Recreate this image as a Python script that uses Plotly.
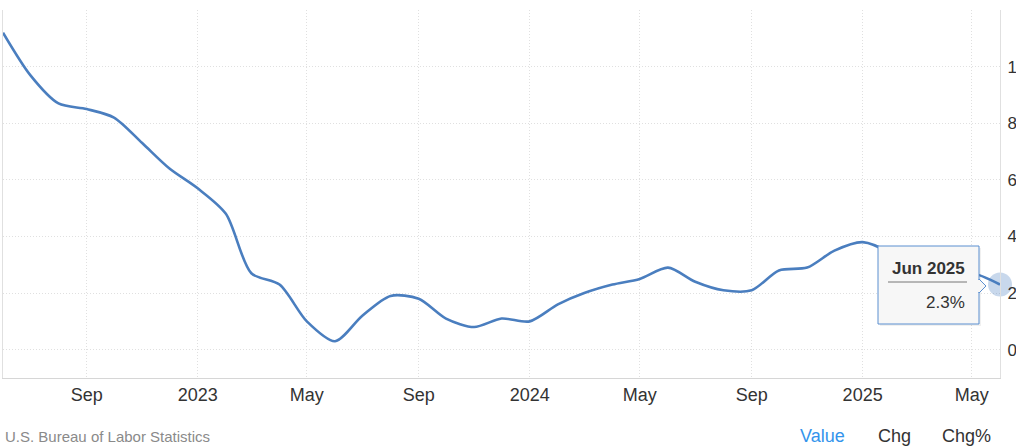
import plotly.graph_objects as go
import pandas as pd

# --- data (US PPI final demand, YoY %) ---
months = pd.date_range("2022-06-01", "2025-06-01", freq="MS")
values = [11.2, 9.7, 8.7, 8.5, 8.2, 7.3, 6.4, 5.7, 4.8, 2.7, 2.3, 1.0, 0.3,
          1.2, 1.9, 1.8, 1.1, 0.8, 1.1, 1.0, 1.6, 2.0, 2.3, 2.5, 2.9, 2.4,
          2.1, 2.1, 2.8, 2.9, 3.5, 3.8, 3.4, 2.7, 2.5, 2.7, 2.3]
x_tick_dates = ["2022-09-01", "2023-01-01", "2023-05-01", "2023-09-01", "2024-01-01",
                "2024-05-01", "2024-09-01", "2025-01-01", "2025-05-01"]
x_tick_labels = ["Sep", "2023", "May", "Sep", "2024", "May", "Sep", "2025", "May"]
y_tick_vals = [0, 2, 4, 6, 8, 10, 12]
y_tick_labels = ["0", "2", "4", "6", "8", "10", ""]
source = "U.S. Bureau of Labor Statistics"
footer_tabs = ["Value", "Chg", "Chg%"]

FONT = "Liberation Sans, Arial, sans-serif"
LINE = "#4a7ebf"

fig = go.Figure()
fig.add_trace(go.Scatter(x=months, y=values, mode="lines",
                         line=dict(color=LINE, width=2.6, shape="spline", smoothing=0.8),
                         hoverinfo="skip", showlegend=False))
# hover marker at latest point
fig.add_trace(go.Scatter(x=[months[-1]], y=[values[-1]], mode="markers",
                         marker=dict(size=24, color="rgba(74,126,191,0.3)", line=dict(width=0)),
                         hoverinfo="skip", showlegend=False, cliponaxis=False))

W, H = 1016, 446
L, R, T, B = 3, 1000, 10, 378

def px(x):
    return (x - L) / (R - L)

def py(y):
    return (B - y) / (B - T)

shapes = [
    # tooltip shadow
    dict(type="rect", xref="paper", yref="paper", x0=px(880), x1=px(981), y0=py(326), y1=py(248),
         fillcolor="rgba(0,0,0,0.06)", line=dict(width=0), layer="above"),
    # tooltip box
    dict(type="rect", xref="paper", yref="paper", x0=px(878), x1=px(979), y0=py(324), y1=py(246),
         fillcolor="#f7f7f7", line=dict(color="#5b8fd0", width=1), layer="above"),
    dict(type="path", xref="paper", yref="paper",
         path=f"M {px(979)},{py(279)} L {px(986)},{py(286)} L {px(979)},{py(293)} Z",
         fillcolor="#f7f7f7", line=dict(color="#5b8fd0", width=1), layer="above"),
    dict(type="line", xref="paper", yref="paper", x0=px(979), x1=px(979), y0=py(280), y1=py(292),
         line=dict(color="#f7f7f7", width=2), layer="above"),
    dict(type="line", xref="paper", yref="paper", x0=px(888), x1=px(967), y0=py(282), y1=py(282),
         line=dict(color="#777777", width=1), layer="above"),
]

annotations = [
    dict(xref="paper", yref="paper", x=px(928), y=py(268), text="<b>" + months[-1].strftime("%b %Y") + "</b>",
         showarrow=False, font=dict(family=FONT, size=17, color="#333333"), xanchor="center", yanchor="middle"),
    dict(xref="paper", yref="paper", x=px(967), y=py(302), text=f"{values[-1]}%",
         showarrow=False, font=dict(family=FONT, size=17, color="#333333"), xanchor="right", yanchor="middle"),
    dict(xref="paper", yref="paper", x=px(3), y=py(436), text=source, showarrow=False,
         font=dict(family=FONT, size=15, color="#8a8a8a"), xanchor="left", yanchor="middle"),
]
tab_x = [798, 876, 940]
tab_col = ["#3394ec", "#333333", "#333333"]
for t, xx, c in zip(footer_tabs, tab_x, tab_col):
    annotations.append(dict(xref="paper", yref="paper", x=px(xx), y=py(436), text=t, showarrow=False,
                            font=dict(family=FONT, size=18, color=c), xanchor="left", yanchor="middle"))

fig.update_layout(
    width=W, height=H,
    margin=dict(l=L, r=W - R, t=T, b=H - B, autoexpand=False),
    paper_bgcolor="white", plot_bgcolor="white",
    font=dict(family=FONT, size=17, color="#333333"),
    shapes=shapes, annotations=annotations,
    xaxis=dict(range=[months[0], months[-1]], tickvals=x_tick_dates, ticktext=x_tick_labels,
               showgrid=True, gridcolor="#e0e0e0", griddash="1px,2px", gridwidth=1,
               showline=True, linecolor="#d6d6d6", linewidth=1, ticks="", automargin=False,
               tickfont=dict(size=18, color="#333333"), zeroline=False, fixedrange=True),
    yaxis=dict(side="right", range=[-1, 12], tickvals=y_tick_vals, ticktext=y_tick_labels,
               showgrid=True, gridcolor="#e0e0e0", griddash="1px,2px", gridwidth=1,
               showline=True, mirror=True, linecolor="#e0e0e0", linewidth=1, ticks="", automargin=False,
               ticklabelstandoff=3,
               tickfont=dict(size=17, color="#333333"), zeroline=False, fixedrange=True),
    hovermode=False,
)

fig.write_html("out.html", config={"displayModeBar": False},
               post_script="document.body.style.margin='0';document.body.style.overflow='hidden';")
